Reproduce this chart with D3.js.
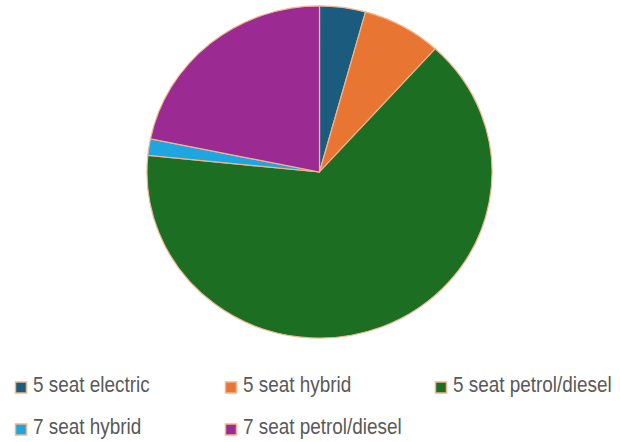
<!DOCTYPE html>
<html>
<head>
<meta charset="utf-8">
<script src="https://cdn.jsdelivr.net/npm/d3@7"></script>
<style>
  body { margin: 0; background: #fff; }
  svg { display: block; }
</style>
</head>
<body>
<div id="chart"></div>
<script>
// Data (share of vehicles, %)
const categories = [
  "5 seat electric",
  "5 seat hybrid",
  "5 seat petrol/diesel",
  "7 seat hybrid",
  "7 seat petrol/diesel"
];
const values = [4.3, 7.4, 64.9, 1.6, 21.8];
const colors = ["#1b5c7e", "#e97532", "#1c6e23", "#1ea6e0", "#9c2a93"];

const width = 620;
const height = 442;

const svg = d3.select("#chart")
  .append("svg")
  .attr("width", width)
  .attr("height", height);

const data = categories.map((c, i) => ({ name: c, value: values[i], color: colors[i] }));

const pie = d3.pie()
  .sort(null)
  .value(d => d.value);

const radius = 172.5;
const arc = d3.arc()
  .innerRadius(0)
  .outerRadius(radius);

// pie is slightly squashed vertically in the reference
const pieGroup = svg.append("g")
  .attr("transform", `translate(319.5, 172) scale(1, 0.963)`);

pieGroup.selectAll("path")
  .data(pie(data))
  .enter()
  .append("path")
  .attr("d", arc)
  .style("fill", d => d.data.color)
  .style("stroke", "#f3b48c")
  .style("stroke-width", 1.2);

// Legend
const legendX = [15, 225, 435];
const legendY = [392, 434]; // text baselines

const legend = svg.selectAll(".legend-item")
  .data(data)
  .enter()
  .append("g")
  .attr("class", "legend-item")
  .attr("transform", (d, i) =>
    `translate(${legendX[i % 3]}, ${legendY[Math.floor(i / 3)]})`
  );

legend.append("rect")
  .attr("x", 0.5)
  .attr("y", -10)
  .attr("width", 11)
  .attr("height", 11)
  .style("fill", d => d.color)
  .style("stroke", "#f3b48c")
  .style("stroke-width", 1.5);

// text is condensed in the reference
legend.append("text")
  .attr("transform", "translate(18, 0) scale(0.86, 1)")
  .style("font-family", "'Liberation Sans', Arial, sans-serif")
  .style("font-size", "22px")
  .style("fill", "#595959")
  .text(d => d.name);
</script>
</body>
</html>
